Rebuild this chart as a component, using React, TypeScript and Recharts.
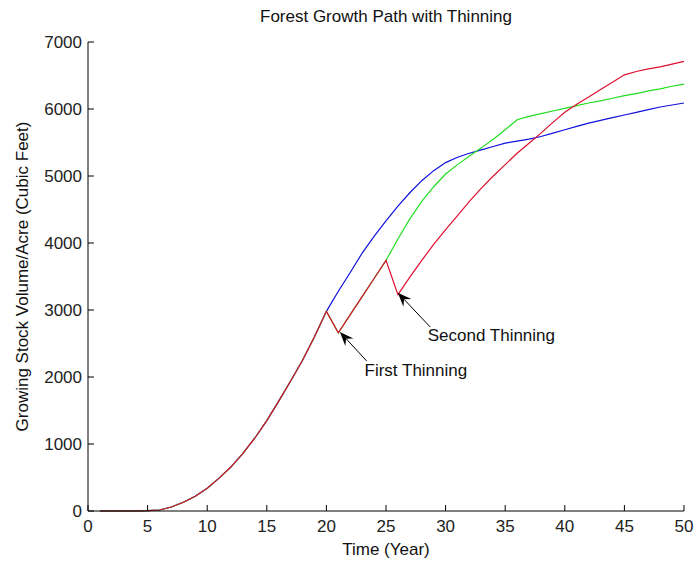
import React from "react";
import {
  LineChart,
  Line,
  XAxis,
  YAxis,
  ReferenceLine,
  ReferenceDot,
} from "recharts";

const years = [
  1, 2, 3, 4, 5, 6, 7, 8, 9, 10, 11, 12, 13, 14, 15, 16, 17, 18, 19, 20, 21, 22,
  23, 24, 25, 26, 27, 28, 29, 30, 31, 32, 33, 34, 35, 36, 37, 38, 39, 40, 41, 42,
  43, 44, 45, 46, 47, 48, 49, 50,
];

// common growth path before any thinning (years 1-20)
const baseGrowth = [
  0, 0, 0, 0, 5, 15, 60, 130, 220, 340, 490, 660, 860, 1090, 1350, 1640, 1940,
  2250, 2600, 2980,
];

// years 21-50
const noThinning = [
  3280, 3560, 3850, 4100, 4330, 4550, 4750, 4930, 5080, 5200, 5280, 5340, 5390,
  5440, 5490, 5520, 5550, 5590, 5640, 5690, 5740, 5790, 5830, 5870, 5910, 5950,
  5990, 6030, 6060, 6090,
];
const oneThinning = [
  2660, 2930, 3200, 3470, 3740, 4060, 4360, 4620, 4840, 5030, 5170, 5300, 5420,
  5550, 5690, 5840, 5890, 5930, 5970, 6010, 6050, 6090, 6120, 6160, 6200, 6230,
  6270, 6300, 6340, 6370,
];
const twoThinnings = [
  2660, 2930, 3200, 3470, 3740, 3230, 3490, 3740, 3980, 4200, 4410, 4620, 4820,
  5000, 5170, 5340, 5490, 5640, 5800, 5950, 6070, 6180, 6290, 6400, 6510, 6560,
  6600, 6630, 6670, 6710,
];

const xTicks = [0, 5, 10, 15, 20, 25, 30, 35, 40, 45, 50];
const yTicks = [0, 1000, 2000, 3000, 4000, 5000, 6000, 7000];

const annotationLabels = ["First Thinning", "Second Thinning"];
const arrowTails = [
  { x: 23.38, y: 2239 },
  { x: 28.71, y: 2746 },
];
const arrowTips = [
  { x: 21.13, y: 2672 },
  { x: 25.99, y: 3258 },
];
const labelAnchors = [
  { x: 23.2, y: 2110 },
  { x: 28.5, y: 2630 },
];

const data = years.map((year, i) => ({
  year,
  blue: i < 20 ? baseGrowth[i] : noThinning[i - 20],
  green: i < 20 ? baseGrowth[i] : oneThinning[i - 20],
  red: i < 20 ? baseGrowth[i] : twoThinnings[i - 20],
}));

const FONT = '"Liberation Sans", Arial, sans-serif';
const TICK_GAP_X = 9;
const TICK_GAP_Y = 6;

function XTick(props: any) {
  const { x, y, payload } = props;
  const axisY = y - TICK_GAP_X;
  return (
    <g>
      <line x1={x} y1={axisY} x2={x} y2={axisY - 6} stroke="#000" />
      <text
        x={x}
        y={y}
        dy="0.71em"
        textAnchor="middle"
        fontSize={17}
        fontFamily={FONT}
        fill="#222"
      >
        {payload.value}
      </text>
    </g>
  );
}

function YTick(props: any) {
  const { x, y, payload } = props;
  const axisX = x + TICK_GAP_Y;
  return (
    <g>
      <line x1={axisX} y1={y} x2={axisX + 6} y2={y} stroke="#000" />
      <text
        x={x}
        y={y}
        dy="0.36em"
        textAnchor="end"
        fontSize={17}
        fontFamily={FONT}
        fill="#222"
      >
        {payload.value}
      </text>
    </g>
  );
}

function Arrow(props: any) {
  const { x1, y1, x2, y2 } = props;
  const ang = Math.atan2(y2 - y1, x2 - x1);
  const c = Math.cos(ang);
  const s = Math.sin(ang);
  const len = 14;
  const half = 5.5;
  const bx = x2 - len * c;
  const by = y2 - len * s;
  const nx = x2 - len * 0.65 * c;
  const ny = y2 - len * 0.65 * s;
  const pts = [
    [x2, y2],
    [bx - s * half, by + c * half],
    [nx, ny],
    [bx + s * half, by - c * half],
  ]
    .map((p) => p.join(","))
    .join(" ");
  return (
    <g>
      <line x1={x1} y1={y1} x2={nx} y2={ny} stroke="#000" strokeWidth={1} />
      <polygon points={pts} fill="#000" />
    </g>
  );
}

const labelShape = (text: string) => (props: any) => (
  <text
    x={props.cx}
    y={props.cy}
    dy="0.36em"
    fontSize={17}
    fontFamily={FONT}
    fill="#111"
  >
    {text}
  </text>
);

export default function App() {
  return (
    <div
      style={{
        position: "absolute",
        left: 0,
        top: 0,
        width: 694,
        height: 563,
        background: "#fff",
        fontFamily: FONT,
      }}
    >
      <div
        style={{
          position: "absolute",
          left: 88,
          width: 596,
          top: 7,
          textAlign: "center",
          fontSize: 17,
          color: "#111",
        }}
      >
        Forest Growth Path with Thinning
      </div>
      <LineChart
        width={694}
        height={563}
        data={data}
        margin={{ top: 42, right: 10, bottom: 0, left: 0 }}
      >
        <XAxis
          dataKey="year"
          type="number"
          domain={[0, 50]}
          ticks={xTicks}
          height={52}
          tickSize={0}
          tickLine={false}
          tickMargin={TICK_GAP_X}
          tick={<XTick />}
          axisLine={{ stroke: "#000" }}
          label={{
            content: (p: any) => (
              <text
                x={p.viewBox.x + p.viewBox.width / 2}
                y={p.viewBox.y + 44}
                textAnchor="middle"
                fontSize={17}
                fontFamily={FONT}
                fill="#111"
              >
                Time (Year)
              </text>
            ),
          }}
        />
        <YAxis
          type="number"
          domain={[0, 7000]}
          ticks={yTicks}
          width={88}
          tickSize={0}
          tickLine={false}
          tickMargin={TICK_GAP_Y}
          tick={<YTick />}
          axisLine={{ stroke: "#000" }}
          label={{
            content: (p: any) => {
              const cy = p.viewBox.y + p.viewBox.height / 2;
              return (
                <text
                  x={22}
                  y={cy}
                  dy="0.36em"
                  transform={`rotate(-90, 22, ${cy})`}
                  textAnchor="middle"
                  fontSize={17}
                  fontFamily={FONT}
                  fill="#111"
                >
                  Growing Stock Volume/Acre (Cubic Feet)
                </text>
              );
            },
          }}
        />
        <Line
          dataKey="blue"
          stroke="#1010dd"
          strokeWidth={1.2}
          dot={false}
          type="linear"
          isAnimationActive={false}
        />
        <Line
          dataKey="green"
          stroke="#22dd22"
          strokeWidth={1.2}
          dot={false}
          type="linear"
          isAnimationActive={false}
        />
        <Line
          dataKey="red"
          stroke="#dd1030"
          strokeWidth={1.2}
          dot={false}
          type="linear"
          isAnimationActive={false}
        />
        {annotationLabels.map((text, i) => (
          <ReferenceLine
            key={"arrow" + i}
            segment={[arrowTails[i], arrowTips[i]]}
            shape={Arrow}
          />
        ))}
        {annotationLabels.map((text, i) => (
          <ReferenceDot
            key={"label" + i}
            x={labelAnchors[i].x}
            y={labelAnchors[i].y}
            r={0}
            shape={labelShape(text)}
          />
        ))}
      </LineChart>
    </div>
  );
}
